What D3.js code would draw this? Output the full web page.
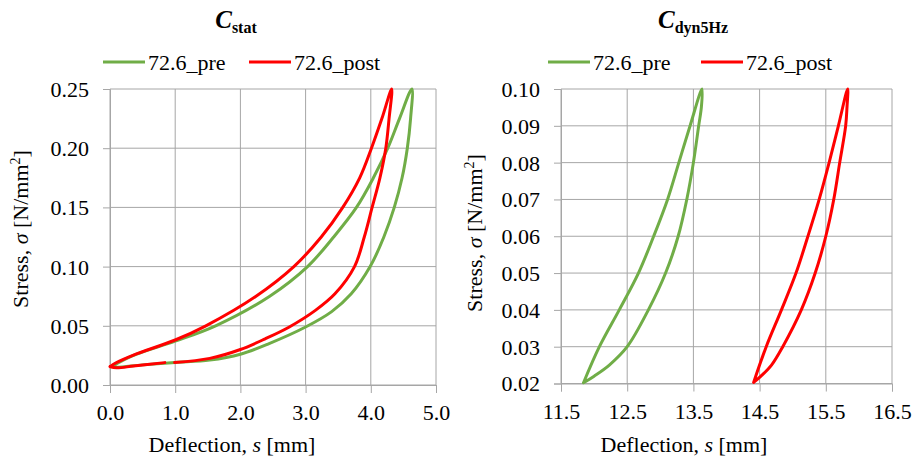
<!DOCTYPE html>
<html>
<head>
<meta charset="utf-8">
<script src="https://cdn.jsdelivr.net/npm/d3@7"></script>
</head>
<body style="margin:0; background:#fff">
<svg id="chart" width="916" height="460"></svg>
<script>
// ---- data: [deflection mm, stress N/mm2]
var seriesNames = ["72.6_pre", "72.6_post"];
var seriesColors = ["#70AD47", "#FF0000"];
var FONT = "Liberation Serif, serif";

// static test, pre (green): loading branch, then unloading branch
var statPre = [[0.02,0.0155],[0.36,0.025],[1.0,0.037],[1.62,0.05],[2.45,0.075],
  [3.03,0.10],[3.43,0.125],[3.78,0.15],[4.04,0.175],[4.26,0.20],[4.44,0.225],[4.63,0.25],
  [4.61,0.225],[4.56,0.20],[4.48,0.175],[4.36,0.15],[4.2,0.125],[3.99,0.10],[3.7,0.077],
  [3.4,0.062],[3.0,0.049],[2.44,0.035],[2.0,0.026],[1.53,0.021],[1.0,0.019],[0.5,0.017],
  [0.1,0.015],[0.02,0.0155]];
// static test, post (red) - the record has a small gap near 0.9 mm
var statPost = [[0.0,0.0155],[0.1,0.019],[0.36,0.0253],[1.0,0.038],[1.47,0.05],[2.24,0.075],
  [2.82,0.10],[3.24,0.125],[3.57,0.15],[3.83,0.175],[4.01,0.20],[4.17,0.225],[4.32,0.25],
  [4.28,0.225],[4.23,0.20],[4.14,0.175],[4.02,0.15],[3.9,0.125],[3.75,0.10],[3.45,0.077],
  [3.15,0.063],[2.75,0.049],[2.38,0.039],[2.0,0.030],[1.53,0.0225],[0.99,0.019],null,
  [0.84,0.0189],[0.36,0.016],[0.1,0.0145],[0.0,0.0155]];

// dynamic 5 Hz test
var dynPre = [[11.84,0.0202],[12.08,0.03],[12.38,0.04],[12.67,0.05],[12.90,0.06],[13.11,0.07],
  [13.28,0.08],[13.45,0.09],[13.63,0.10],
  [13.62,0.095],[13.58,0.09],[13.50,0.08],[13.40,0.07],[13.27,0.06],[13.08,0.05],[12.82,0.04],
  [12.5,0.03],[12.23,0.025],[12.0,0.022],[11.84,0.0202]];
var dynPost = [[14.41,0.0203],[14.60,0.03],[14.83,0.04],[15.05,0.05],[15.23,0.06],[15.40,0.07],
  [15.55,0.08],[15.69,0.09],[15.83,0.10],
  [15.82,0.095],[15.80,0.09],[15.71,0.08],[15.62,0.07],[15.50,0.06],[15.34,0.05],[15.13,0.04],
  [14.85,0.03],[14.68,0.025],[14.52,0.022],[14.41,0.0203]];

var statXTicks = [0, 1, 2, 3, 4, 5];
var statYTicks = [0, 0.05, 0.10, 0.15, 0.20, 0.25];
var dynXTicks = [11.5, 12.5, 13.5, 14.5, 15.5, 16.5];
var dynYTicks = [0.02, 0.03, 0.04, 0.05, 0.06, 0.07, 0.08, 0.09, 0.10];

var svg = d3.select("#chart");

function txt(sel, size) {
  return sel.style("font-family", FONT).style("font-size", size + "px").style("fill", "#000");
}

function drawPanel(p) {
  var x = d3.scaleLinear().domain(p.xDomain).range([p.left, p.right]);
  var y = d3.scaleLinear().domain(p.yDomain).range([p.bottom, p.top]);
  var g = svg.append("g");

  // grid
  g.selectAll(".vg").data(p.xTicks).enter().append("line")
    .attr("x1", function(d) { return x(d); }).attr("x2", function(d) { return x(d); })
    .attr("y1", p.top).attr("y2", p.bottom)
    .style("stroke", "#a6a6a6").style("stroke-width", 1);
  g.selectAll(".hg").data(p.yTicks).enter().append("line")
    .attr("y1", function(d) { return y(d); }).attr("y2", function(d) { return y(d); })
    .attr("x1", p.left).attr("x2", p.right)
    .style("stroke", "#a6a6a6").style("stroke-width", 1);

  // axes
  var xAxis = g.append("g").attr("transform", "translate(0," + p.bottom + ")")
    .call(d3.axisBottom(x).tickValues(p.xTicks).tickFormat(d3.format(p.xFmt)).tickSize(8));
  var yAxis = g.append("g").attr("transform", "translate(" + p.left + ",0)")
    .call(d3.axisLeft(y).tickValues(p.yTicks).tickFormat(d3.format(p.yFmt)).tickSize(7).tickPadding(14));
  [xAxis, yAxis].forEach(function(a) {
    a.attr("font-family", null).attr("font-size", null);
    a.select(".domain").style("stroke", "#a6a6a6");
    a.selectAll(".tick line").style("stroke", "#a6a6a6");
    txt(a.selectAll(".tick text"), 22);
  });
  xAxis.selectAll(".tick text").attr("dy", null).attr("y", 35);
  yAxis.selectAll(".tick text").attr("dy", "0.34em");

  // loops
  var line = d3.line()
    .defined(function(d) { return d != null; })
    .x(function(d) { return x(d[0]); })
    .y(function(d) { return y(d[1]); })
    .curve(d3.curveCatmullRom.alpha(0.5));
  p.series.forEach(function(s, i) {
    g.append("path").datum(s).attr("d", line)
      .style("fill", "none").style("stroke", seriesColors[i]).style("stroke-width", 3)
      .style("stroke-linejoin", "round").style("stroke-linecap", "round");
  });

  // title
  var t = svg.append("text").attr("x", p.titleX).attr("y", 28).attr("text-anchor", "middle")
    .style("font-family", FONT).style("fill", "#000");
  t.append("tspan").text("C").style("font-size", "25px").style("font-weight", "bold").style("font-style", "italic");
  t.append("tspan").text(p.sub).attr("dy", 5).style("font-size", "16px").style("font-weight", "bold");

  // legend
  seriesNames.forEach(function(n, i) {
    var lx = p.legendX[i];
    svg.append("line").attr("x1", lx).attr("x2", lx + 42).attr("y1", 62).attr("y2", 62)
      .style("stroke", seriesColors[i]).style("stroke-width", 3);
    txt(svg.append("text").attr("x", lx + 45).attr("y", 69.5), 22).text(n);
  });

  // axis titles
  var xt = txt(svg.append("text").attr("x", p.xTitleX).attr("y", 452).attr("text-anchor", "middle"), 22);
  xt.append("tspan").text("Deflection, ");
  xt.append("tspan").text("s").style("font-style", "italic");
  xt.append("tspan").text(" [mm]");

  var yt = txt(svg.append("text").attr("text-anchor", "middle")
    .attr("transform", "translate(" + p.yTitleX + "," + p.yTitleY + ") rotate(-90)"), 22);
  yt.append("tspan").text("Stress, ");
  yt.append("tspan").text("σ").style("font-style", "italic");
  yt.append("tspan").text(" [N/mm");
  yt.append("tspan").text("2").style("font-size", "14px").attr("dy", -8);
  yt.append("tspan").text("]").attr("dy", 8);
}

drawPanel({
  xDomain: [0, 5], yDomain: [0, 0.25], left: 110, right: 436, top: 89, bottom: 385,
  xTicks: statXTicks, yTicks: statYTicks, xFmt: ".1f", yFmt: ".2f",
  series: [statPre, statPost], titleX: 236, sub: "stat", legendX: [103, 249],
  xTitleX: 232, yTitleX: 28, yTitleY: 229
});
drawPanel({
  xDomain: [11.5, 16.5], yDomain: [0.02, 0.10], left: 561, right: 892, top: 89, bottom: 383.5,
  xTicks: dynXTicks, yTicks: dynYTicks, xFmt: ".1f", yFmt: ".2f",
  series: [dynPre, dynPost], titleX: 693, sub: "dyn5Hz", legendX: [548, 701],
  xTitleX: 684, yTitleX: 482, yTitleY: 233
});
</script>
</body>
</html>
